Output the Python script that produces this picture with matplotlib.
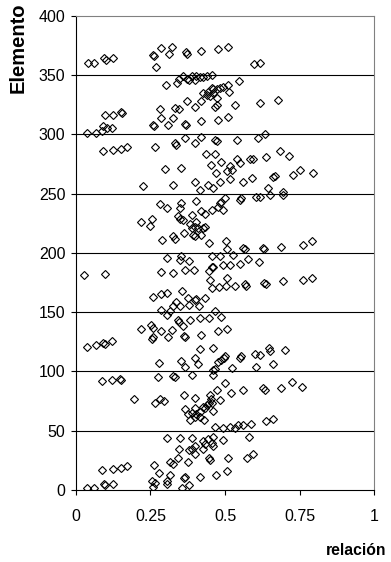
import matplotlib
matplotlib.use("Agg")
from matplotlib import pyplot as plt

plt.rcParams['font.family'] = ['Liberation Sans', 'DejaVu Sans']

# valores (relacion, elemento)
relacion = [
    0.041, 0.061, 0.095, 0.101, 0.123, 0.259, 0.263, 0.285, 0.313, 0.323,
    0.269, 0.369, 0.371, 0.421, 0.476, 0.511, 0.598, 0.617,
    0.302, 0.340, 0.346, 0.360, 0.374, 0.380, 0.388, 0.399, 0.404, 0.438,
    0.546, 0.427, 0.455, 0.417,
    0.455, 0.444, 0.460, 0.472, 0.483, 0.494, 0.511, 0.427, 0.438, 0.449,
    0.460, 0.472, 0.466, 0.472, 0.514, 0.374, 0.399, 0.421, 0.535, 0.617,
    0.678, 0.282, 0.285, 0.332, 0.345, 0.324, 0.309, 0.259, 0.263, 0.365,
    0.368, 0.421, 0.477, 0.511, 0.097, 0.125, 0.153, 0.155, 0.092, 0.103,
    0.120, 0.038, 0.067, 0.086,
    0.332, 0.337, 0.365, 0.399, 0.421, 0.466, 0.472, 0.539, 0.609, 0.634,
    0.092, 0.125, 0.151, 0.170, 0.265, 0.436, 0.466, 0.684, 0.715, 0.488,
    0.539, 0.516, 0.550, 0.583, 0.594, 0.639, 0.453, 0.299, 0.354, 0.470,
    0.505, 0.525, 0.661, 0.667, 0.728, 0.751, 0.796, 0.399, 0.444, 0.483,
    0.516, 0.561, 0.592, 0.226, 0.324, 0.416, 0.460, 0.645, 0.695,
    0.499, 0.555, 0.605, 0.617, 0.650, 0.695, 0.550, 0.488, 0.483, 0.282,
    0.307, 0.354, 0.404, 0.349, 0.343, 0.349, 0.388, 0.421, 0.432, 0.455,
    0.475, 0.494, 0.360, 0.220, 0.254, 0.248, 0.382, 0.404, 0.399, 0.410,
    0.427, 0.432, 0.388, 0.363, 0.326, 0.332, 0.290, 0.393, 0.399, 0.421,
    0.447, 0.503, 0.505, 0.561, 0.566, 0.626, 0.631, 0.687, 0.762, 0.792,
    0.306, 0.349, 0.354, 0.380, 0.455, 0.483, 0.527, 0.578, 0.615, 0.550,
    0.516, 0.494, 0.455, 0.460, 0.028, 0.097, 0.285, 0.326, 0.365, 0.397,
    0.447, 0.505, 0.449, 0.533, 0.566, 0.570, 0.631, 0.639, 0.693, 0.762,
    0.792, 0.458, 0.481, 0.503, 0.259, 0.285, 0.306, 0.357, 0.376, 0.399,
    0.404, 0.432, 0.337, 0.326, 0.287, 0.315, 0.349, 0.380, 0.413, 0.466,
    0.304, 0.343, 0.346, 0.382, 0.416, 0.447, 0.488, 0.360, 0.218, 0.251,
    0.259, 0.285, 0.254, 0.259, 0.309, 0.321, 0.362, 0.366, 0.419, 0.475,
    0.508, 0.036, 0.067, 0.092, 0.097, 0.120, 0.416, 0.460, 0.499, 0.496,
    0.555, 0.550, 0.600, 0.617, 0.648, 0.650, 0.700, 0.278, 0.352, 0.399,
    0.365, 0.410, 0.477, 0.488, 0.460, 0.466, 0.522, 0.603, 0.661,
    0.086, 0.120, 0.147, 0.150, 0.274, 0.326, 0.332, 0.388, 0.460, 0.499,
    0.472, 0.483, 0.520, 0.559, 0.628, 0.634, 0.689, 0.725, 0.759, 0.194,
    0.265, 0.282, 0.296, 0.362, 0.399, 0.449, 0.453, 0.447, 0.365, 0.376,
    0.388, 0.399, 0.404, 0.416, 0.425, 0.432, 0.438, 0.455, 0.460, 0.382,
    0.399, 0.416, 0.430, 0.466, 0.494, 0.516, 0.533, 0.544, 0.561, 0.587,
    0.639, 0.662,
    0.304, 0.349, 0.388, 0.460, 0.494, 0.581, 0.425, 0.444, 0.432, 0.455,
    0.346, 0.380, 0.388, 0.399, 0.427, 0.460, 0.343, 0.315, 0.324, 0.376,
    0.399, 0.446, 0.449, 0.511, 0.572, 0.594, 0.263, 0.280, 0.254, 0.265,
    0.304, 0.315, 0.362, 0.366, 0.416, 0.469, 0.505, 0.089, 0.123, 0.151,
    0.170, 0.095, 0.097, 0.123, 0.036, 0.061, 0.259, 0.304, 0.357, 0.380,
]
elemento = [
    360, 360, 364, 363, 364, 367, 366, 373, 368, 374,
    357, 369, 368, 370, 372, 374, 359, 360,
    342, 343, 347, 349, 347, 346, 349, 346, 349, 349,
    345, 348, 350, 348,
    339, 336, 338, 338, 339, 340, 342, 335, 333, 332,
    335, 331, 323, 325, 336, 328, 323, 328, 325, 326,
    329, 321, 314, 322, 321, 314, 308, 308, 307, 309,
    308, 311, 312, 315, 316, 316, 319, 318, 307, 305,
    305, 301, 301, 303,
    293, 291, 297, 293, 298, 295, 294, 295, 297, 300,
    286, 287, 288, 289, 289, 283, 283, 286, 282, 277,
    279, 273, 276, 279, 279, 281, 274, 271, 272, 267,
    269, 270, 264, 265, 266, 270, 267, 260, 257, 260,
    262, 260, 263, 256, 257, 253, 255, 255, 251,
    246, 246, 247, 247, 249, 249, 245, 243, 242, 241,
    238, 242, 244, 238, 231, 229, 232, 235, 233, 236,
    239, 236, 228, 226, 229, 223, 224, 226, 222, 221,
    221, 222, 221, 217, 214, 212, 211, 215, 214, 215,
    208, 210, 203, 204, 203, 204, 203, 205, 207, 210,
    196, 194, 197, 193, 197, 197, 198, 195, 192, 191,
    190, 190, 188, 188, 181, 182, 184, 183, 186, 186,
    185, 179, 177, 172, 174, 172, 175, 174, 176, 177,
    179, 170, 171, 172, 163, 165, 166, 168, 162, 160,
    161, 162, 159, 155, 152, 151, 155, 156, 155, 151,
    148, 143, 142, 143, 145, 145, 146, 138, 136, 139,
    137, 134, 127, 129, 129, 135, 130, 129, 131, 134,
    136, 121, 122, 124, 123, 126, 119, 120, 113, 111,
    113, 111, 115, 114, 120, 117, 118, 107, 109, 111,
    104, 106, 108, 110, 101, 102, 103, 104, 106,
    92, 93, 94, 93, 95, 96, 95, 97, 97, 90,
    84, 76, 82, 84, 86, 84, 86, 91, 87, 77,
    73, 77, 75, 80, 78, 80, 77, 73, 68, 64,
    65, 69, 64, 66, 70, 69, 72, 73, 67, 59,
    62, 62, 59, 53, 52, 53, 52, 55, 55, 56,
    58, 60,
    44, 44, 44, 45, 42, 45, 41, 43, 39, 40,
    35, 34, 35, 37, 35, 37, 27, 24, 22, 24,
    30, 27, 25, 27, 27, 30, 21, 14, 8, 6,
    8, 13, 10, 11, 11, 13, 16, 17, 18, 19,
    20, 5, 4, 5, 2, 2, 3, 5, 2, 4,
]

x_ticks = [0, 0.25, 0.5, 0.75, 1]
x_ticklabels = ['0', '0.25', '0.5', '0.75', '1']
y_ticks = [0, 50, 100, 150, 200, 250, 300, 350, 400]

fig = plt.figure(figsize=(3.91, 5.62), dpi=100)
ax = fig.add_axes([0.194, 0.128, 0.763, 0.844])

for yv in y_ticks[1:-1]:
    ax.axhline(yv, color='black', lw=0.8, zorder=1)

ax.plot(relacion, elemento, linestyle='none', marker='D', markersize=4.4,
        markerfacecolor='none', markeredgecolor='black', markeredgewidth=0.8, zorder=3)

ax.set_xlim(0, 1)
ax.set_ylim(0, 400)
ax.set_xticks(x_ticks)
ax.set_xticklabels(x_ticklabels)
ax.set_yticks(y_ticks)
ax.tick_params(axis='both', direction='out', length=3.5, width=0.8, labelsize=11.5, color='black')
ax.tick_params(axis='x', pad=10)
ax.tick_params(axis='y', pad=4)

ax.spines['top'].set_color('#808080')
ax.spines['right'].set_color('#808080')
ax.spines['left'].set_color('black')
ax.spines['bottom'].set_color('black')
for s in ax.spines.values():
    s.set_linewidth(0.8)

fig.text(0.046, 0.996, 'Elemento', rotation=90, ha='center', va='top',
         fontsize=14.5, fontweight='bold')
fig.text(0.988, 0.021, 'relación', ha='right', va='center',
         fontsize=11.3, fontweight='bold')

fig.savefig('out.png', dpi=100)
